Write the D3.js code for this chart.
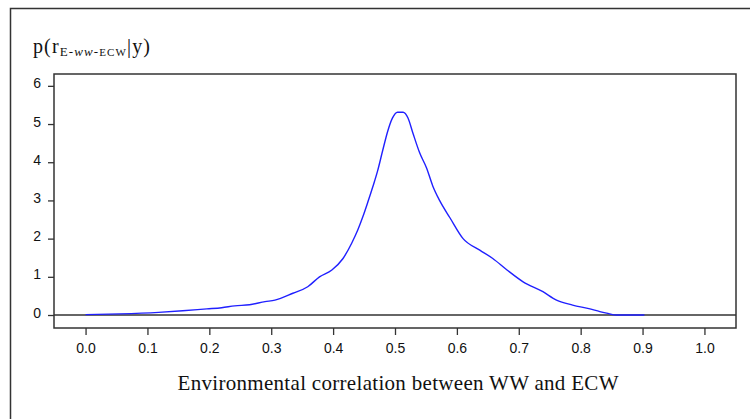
<!DOCTYPE html>
<html>
<head>
<meta charset="utf-8">
<script src="https://cdn.jsdelivr.net/npm/d3@7"></script>
<style>
    body { margin: 0; background: #fff; }
    svg { display: block; }
</style>
</head>
<body>
<div id="chart"></div>
<script>

// posterior density of the environmental correlation
let rValues = [0.0, 0.055, 0.118, 0.157, 0.196, 0.220, 0.241, 0.265, 0.290, 0.306,
    0.335, 0.359, 0.378, 0.398, 0.416, 0.430, 0.440, 0.448, 0.456, 0.464,
    0.472, 0.480, 0.488, 0.496, 0.504, 0.513, 0.521, 0.529, 0.540, 0.551,
    0.561, 0.572, 0.589, 0.610, 0.637, 0.658, 0.681, 0.707, 0.739, 0.761,
    0.787, 0.815, 0.831, 0.842, 0.858, 0.903];
let density = [0.01, 0.03, 0.07, 0.11, 0.16, 0.19, 0.24, 0.27, 0.35, 0.39,
    0.57, 0.74, 1.0, 1.18, 1.48, 1.88, 2.23, 2.57, 2.95, 3.35,
    3.78, 4.3, 4.8, 5.16, 5.31, 5.31, 5.16, 4.76, 4.24, 3.85,
    3.38, 3.0, 2.54, 2.0, 1.70, 1.48, 1.18, 0.87, 0.61, 0.39,
    0.26, 0.16, 0.09, 0.05, 0.0, 0.0];

let xTicks = [0.0, 0.1, 0.2, 0.3, 0.4, 0.5, 0.6, 0.7, 0.8, 0.9, 1.0];
let yTicks = [0, 1, 2, 3, 4, 5, 6];

let xTitle = "Environmental correlation between WW and ECW";

let width = 750, height = 419;
let box = {left: 54, top: 74, right: 736, bottom: 328};

let svg = d3.select("#chart").append("svg")
    .attr("width", width)
    .attr("height", height);

// outer frame (runs off the right and bottom edges)
svg.append("path")
    .attr("d", `M10.5,${height + 5} V8.5 H${width + 5}`)
    .attr("fill", "none")
    .attr("stroke", "#333")
    .attr("stroke-width", 1.5);

let x = d3.scaleLinear()
    .domain([-0.051, 1.051])
    .range([box.left, box.right]);

let y = d3.scaleLinear()
    .domain([-0.34, 6.31])
    .range([box.bottom, box.top]);

// plot box
svg.append("rect")
    .attr("x", box.left)
    .attr("y", box.top)
    .attr("width", box.right - box.left)
    .attr("height", box.bottom - box.top)
    .attr("fill", "none")
    .attr("stroke", "#333")
    .attr("stroke-width", 1.5);

// y axis
let yAxis = svg.append("g")
    .attr("transform", `translate(${box.left},0)`)
    .call(d3.axisLeft(y).tickValues(yTicks).tickSize(6).tickSizeOuter(0).tickFormat(d3.format("d")));
yAxis.select(".domain").remove();
yAxis.selectAll("line").attr("stroke", "#333").attr("stroke-width", 1.3);
yAxis.selectAll("text")
    .attr("x", -13)
    .attr("dy", "0.15em")
    .attr("font-family", "Liberation Sans, Arial, sans-serif")
    .attr("font-size", "14px")
    .attr("fill", "#111");

// x axis
let xAxis = svg.append("g")
    .attr("transform", `translate(0,${box.bottom})`)
    .call(d3.axisBottom(x).tickValues(xTicks).tickSize(7).tickSizeOuter(0).tickFormat(d3.format(".1f")));
xAxis.select(".domain").remove();
xAxis.selectAll("line").attr("stroke", "#333").attr("stroke-width", 1.3);
xAxis.selectAll("text")
    .attr("y", 15)
    .attr("font-family", "Liberation Sans, Arial, sans-serif")
    .attr("font-size", "14px")
    .attr("fill", "#111");

// zero line
svg.append("line")
    .attr("x1", box.left)
    .attr("x2", box.right)
    .attr("y1", y(0))
    .attr("y2", y(0))
    .attr("stroke", "#333")
    .attr("stroke-width", 1.3);

// density curve
let points = rValues.map((r, i) => [r, density[i]]);

svg.append("path")
    .datum(points)
    .attr("d", d3.line().x(d => x(d[0])).y(d => y(d[1])).curve(d3.curveMonotoneX))
    .attr("fill", "none")
    .attr("stroke", "#2020ff")
    .attr("stroke-width", 1.4);

// y title p(r_{E-WW-ECW}|y)
let yTitle = svg.append("text")
    .attr("x", 33)
    .attr("y", 53)
    .attr("font-family", "Liberation Serif, Times New Roman, serif")
    .attr("font-size", "20px")
    .attr("textLength", 117)
    .attr("fill", "#111");
yTitle.append("tspan").text("p(r");
yTitle.append("tspan")
    .attr("dy", 3)
    .attr("font-size", "13px")
    .text("E-");
yTitle.append("tspan")
    .attr("font-size", "13px")
    .attr("font-style", "italic")
    .text("ww-");
yTitle.append("tspan")
    .attr("font-size", "11px")
    .text("ECW");
yTitle.append("tspan")
    .attr("dy", -3)
    .text("|y)");

// x title
svg.append("text")
    .attr("x", 398)
    .attr("y", 390)
    .attr("text-anchor", "middle")
    .attr("font-family", "Liberation Serif, Times New Roman, serif")
    .attr("font-size", "21px")
    .attr("textLength", 441)
    .attr("fill", "#111")
    .text(xTitle);

</script>
</body>
</html>
